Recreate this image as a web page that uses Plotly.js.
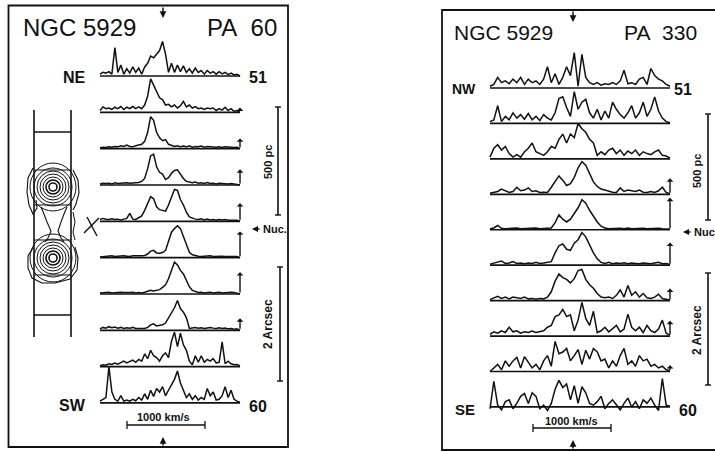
<!DOCTYPE html>
<html><head><meta charset="utf-8">
<script src="https://cdn.plot.ly/plotly-3.0.1.min.js"></script>
<style>html,body{margin:0;padding:0;background:#fff}#g{width:715px;height:452px}</style>
</head><body><div id="g"></div>
<script>
// ---- Data: normalised line profiles (row units), NGC 5929 PA 60 (rows 51 .. 60) ----
const pa60_s1  = [0.05,0.1,0.08,0.12,0.05,0.78,0.1,0.3,0.05,0.2,0.08,0.25,0.1,0.22,0.05,0.25,0.35,0.55,0.5,0.6,0.7,0.95,0.6,0.1,0.35,0.1,0.3,0.12,0.28,0.1,0.2,0.08,0.22,0.1,0.15,0.05,0.15,0.08,0.12,0.05,0.12,0.06,0.1,0.04,0.08,0.03,0.05,0.0];
const pa60_s2  = [0.05,0.15,0.1,0.12,0.08,0.14,0.1,0.16,0.08,0.14,0.1,0.16,0.1,0.15,0.1,0.2,0.45,0.92,0.75,0.55,0.4,0.35,0.2,0.22,0.15,0.2,0.12,0.18,0.3,0.15,0.2,0.12,0.16,0.1,0.12,0.08,0.12,0.1,0.12,0.05,0.1,0.06,0.14,0.05,0.1,0.03,0.05,0.0];
const pa60_s3  = [0.02,0.04,0.03,0.05,0.04,0.06,0.05,0.08,0.06,0.1,0.06,0.05,0.08,0.1,0.12,0.2,0.45,0.88,0.78,0.45,0.3,0.22,0.25,0.12,0.1,0.06,0.08,0.05,0.07,0.05,0.08,0.04,0.06,0.05,0.07,0.04,0.06,0.05,0.06,0.04,0.05,0.03,0.05,0.04,0.05,0.03,0.04,0.0];
const pa60_s4  = [0.03,0.05,0.04,0.05,0.03,0.06,0.04,0.05,0.04,0.06,0.05,0.06,0.05,0.07,0.1,0.18,0.45,0.8,0.85,0.5,0.35,0.3,0.15,0.2,0.32,0.4,0.42,0.3,0.18,0.1,0.08,0.06,0.08,0.05,0.06,0.04,0.07,0.04,0.05,0.03,0.05,0.04,0.05,0.03,0.04,0.03,0.03,0.0];
const pa60_s5  = [0.05,0.08,0.06,0.05,0.07,0.05,0.06,0.04,0.06,0.08,0.22,0.06,0.05,0.1,0.15,0.3,0.5,0.68,0.62,0.4,0.32,0.3,0.28,0.45,0.65,0.88,0.85,0.6,0.45,0.25,0.12,0.08,0.06,0.05,0.07,0.04,0.06,0.04,0.05,0.03,0.05,0.04,0.05,0.03,0.04,0.03,0.03,0.0];
const pa60_s6  = [0.02,0.03,0.04,0.03,0.05,0.03,0.04,0.03,0.05,0.04,0.03,0.05,0.04,0.05,0.05,0.06,0.1,0.18,0.2,0.13,0.12,0.14,0.2,0.45,0.7,0.8,0.88,0.8,0.6,0.35,0.15,0.08,0.05,0.04,0.03,0.04,0.03,0.05,0.03,0.04,0.03,0.04,0.03,0.04,0.03,0.03,0.03,0.0];
const pa60_s7  = [0.03,0.04,0.03,0.05,0.03,0.04,0.03,0.05,0.04,0.03,0.04,0.05,0.03,0.04,0.03,0.05,0.07,0.1,0.08,0.1,0.12,0.18,0.25,0.42,0.65,0.88,0.8,0.65,0.55,0.35,0.2,0.1,0.06,0.04,0.05,0.03,0.04,0.05,0.03,0.04,0.05,0.03,0.04,0.03,0.05,0.04,0.03,0.0];
const pa60_s8  = [0.04,0.08,0.06,0.1,0.07,0.09,0.06,0.08,0.05,0.07,0.06,0.08,0.05,0.04,0.05,0.05,0.08,0.15,0.18,0.12,0.14,0.15,0.2,0.35,0.5,0.62,0.82,0.6,0.5,0.35,0.05,0.06,0.08,0.06,0.07,0.05,0.06,0.08,0.06,0.05,0.07,0.05,0.06,0.04,0.05,0.03,0.04,0.0];
const pa60_s9  = [0.02,0.05,0.04,0.08,0.06,0.1,0.07,0.12,0.15,0.1,0.13,0.18,0.12,0.2,0.15,0.35,0.22,0.45,0.3,0.25,0.15,0.3,0.38,0.25,0.7,0.95,0.55,0.92,0.6,0.45,0.15,0.05,0.3,0.12,0.3,0.12,0.2,0.15,0.22,0.1,0.12,0.68,0.08,0.15,0.08,0.05,0.06,0.02];
const pa60_s10 = [0.05,0.1,0.15,1.0,0.3,0.1,0.05,0.2,0.05,0.08,0.05,0.1,0.06,0.15,0.08,0.25,0.1,0.35,0.18,0.4,0.3,0.45,0.2,0.35,0.5,0.65,0.88,0.55,0.35,0.15,0.25,0.1,0.2,0.08,0.15,0.1,0.4,0.2,0.3,0.08,0.1,0.2,0.45,0.15,0.35,0.1,0.05,0.02];
const pa60_cal = [0,0.13,0.28,0.43,0.5,0.72,0.6,0.33,0,0];

// ---- NGC 5929 PA 330 (rows 51 .. 60) ----
const pa330_s1  = [0.05,0.1,0.3,0.15,0.2,0.12,0.25,0.15,0.3,0.1,0.25,0.15,0.2,0.1,0.25,0.6,0.15,0.4,0.1,0.3,0.6,0.35,1.0,0.05,0.95,0.3,0.15,0.1,0.15,0.08,0.12,0.1,0.15,0.1,0.2,0.5,0.12,0.15,0.1,0.25,0.3,0.1,0.55,0.35,0.25,0.2,0.1,0.05];
const pa330_s2  = [0.05,0.1,0.5,0.05,0.2,0.1,0.3,0.15,0.25,0.12,0.28,0.1,0.2,0.08,0.25,0.15,0.1,0.3,0.7,0.75,0.45,0.2,0.9,0.4,0.6,0.68,0.3,0.15,0.4,0.1,0.35,0.15,0.6,0.4,0.25,0.15,0.3,0.5,0.15,0.3,0.6,0.2,0.4,0.75,0.35,0.15,0.05,0.02];
const pa330_s3  = [0.05,0.3,0.4,0.25,0.35,0.15,0.05,0.12,0.05,0.2,0.3,0.45,0.2,0.15,0.1,0.2,0.35,0.3,0.55,0.7,0.45,0.7,0.6,1.0,0.85,0.75,0.55,0.45,0.1,0.2,0.12,0.25,0.3,0.15,0.25,0.1,0.22,0.15,0.25,0.1,0.2,0.15,0.12,0.2,0.25,0.1,0.08,0.02];
const pa330_s4  = [0.03,0.05,0.08,0.15,0.1,0.05,0.08,0.2,0.1,0.12,0.18,0.08,0.1,0.05,0.06,0.05,0.2,0.35,0.52,0.4,0.25,0.3,0.48,0.75,0.92,0.82,0.6,0.35,0.22,0.15,0.12,0.08,0.06,0.05,0.18,0.08,0.12,0.1,0.08,0.12,0.06,0.05,0.08,0.05,0.1,0.2,0.05,0.02];
const pa330_s5  = [0.03,0.05,0.12,0.04,0.03,0.04,0.03,0.05,0.03,0.04,0.03,0.04,0.05,0.03,0.04,0.04,0.05,0.2,0.42,0.3,0.22,0.3,0.45,0.62,0.85,0.75,0.55,0.38,0.22,0.1,0.05,0.03,0.04,0.03,0.04,0.03,0.05,0.03,0.04,0.03,0.04,0.03,0.04,0.03,0.04,0.03,0.03,0.02];
const pa330_s6  = [0.03,0.06,0.1,0.12,0.05,0.06,0.1,0.05,0.06,0.04,0.06,0.05,0.08,0.05,0.06,0.08,0.1,0.35,0.55,0.6,0.45,0.42,0.62,0.72,0.92,0.8,0.55,0.35,0.18,0.08,0.05,0.08,0.04,0.06,0.05,0.07,0.04,0.06,0.05,0.04,0.06,0.05,0.04,0.06,0.08,0.04,0.05,0.02];
const pa330_s7  = [0.03,0.08,0.12,0.06,0.1,0.05,0.1,0.08,0.06,0.1,0.05,0.06,0.04,0.06,0.05,0.1,0.25,0.55,0.75,0.65,0.6,0.5,0.62,0.85,0.88,0.6,0.45,0.35,0.2,0.1,0.08,0.1,0.06,0.15,0.3,0.1,0.43,0.15,0.25,0.1,0.2,0.08,0.06,0.1,0.18,0.06,0.05,0.02];
const pa330_s8  = [0.05,0.12,0.08,0.15,0.1,0.25,0.12,0.15,0.08,0.12,0.1,0.14,0.1,0.12,0.15,0.25,0.3,0.55,0.6,0.75,0.55,0.6,0.15,0.45,0.95,0.5,0.3,0.7,0.1,0.15,0.25,0.12,0.2,0.3,0.12,0.2,0.62,0.25,0.15,0.25,0.1,0.3,0.15,0.1,0.2,0.45,0.08,0.02];
const pa330_s9  = [0.0,0.1,0.2,0.05,0.3,0.15,0.3,0.4,0.1,0.42,0.25,0.1,0.2,0.05,0.3,0.45,0.15,0.85,0.5,0.55,0.65,0.3,0.45,0.62,0.2,0.6,0.35,0.65,0.55,0.3,0.35,0.1,0.3,0.15,0.45,0.65,0.2,0.3,0.15,0.45,0.3,0.35,0.15,0.2,0.1,0.15,0.05,0.02];
const pa330_s10 = [-0.05,0.72,0.05,-0.08,0.15,0.2,-0.05,0.1,0.3,0.38,0.1,0.4,0.3,-0.05,0.05,-0.1,0.1,0.5,0.75,0.55,0.65,0.2,0.6,0.1,0.57,0.4,0.1,0.05,0.15,0.3,-0.05,0.1,0.2,0.05,-0.08,0.1,0.25,0.0,0.15,-0.05,0.2,0.1,0.25,0.05,-0.1,0.8,0.05,0.02];
const pa330_cal = [0,0,0,0.45,0.9,0.64,0.34,0.43,0.18,0];

// velocity channels (km/s relative to systemic)
const pa60_v0 = -808, pa60_dv = 38.2;
const pa330_v0 = -1064, pa330_dv = 49.1;

const pa60 = [pa60_s1,pa60_s2,pa60_s3,pa60_s4,pa60_s5,pa60_s6,pa60_s7,pa60_s8,pa60_s9,pa60_s10];
const pa330 = [pa330_s1,pa330_s2,pa330_s3,pa330_s4,pa330_s5,pa330_s6,pa330_s7,pa330_s8,pa330_s9,pa330_s10];

// ---- geometry ----
const W = 715, H = 452, K = 0.078;   // px per km/s
const LC = 163, RC = 573;            // systemic velocity position
const LR0 = 76, LRS = 36.33, RR0 = 88, RRS = 35.44;
const X = p => p / W, Y = p => 1 - p / H;
const ink = '#111';

const traces = [];
pa60.forEach((s, r) => traces.push({type:'scatter', mode:'lines', xaxis:'x', yaxis:'y',
  x0: pa60_v0, dx: pa60_dv, y: s.map(v => v - r), line:{color:ink, width:1.5},
  hoverinfo:'skip', showlegend:false}));
pa330.forEach((s, r) => traces.push({type:'scatter', mode:'lines', xaxis:'x2', yaxis:'y2',
  x0: pa330_v0, dx: pa330_dv, y: s.map(v => v - r), line:{color:ink, width:1.5},
  hoverinfo:'skip', showlegend:false}));

const shapes = [];
const line = (x0,y0,x1,y1,w) => shapes.push({type:'line', xref:'paper', yref:'paper',
  x0:X(x0), y0:Y(y0), x1:X(x1), y1:Y(y1), line:{color:ink, width:w||1.5}});
const circ = (cx,cy,rx,ry,w) => shapes.push({type:'circle', xref:'paper', yref:'paper',
  x0:X(cx-rx), x1:X(cx+rx), y0:Y(cy+ry), y1:Y(cy-ry), line:{color:ink, width:w||1}});
const path = (pts,w) => {
  let d = 'M ' + X(pts[0][0]) + ',' + Y(pts[0][1]);
  for (let i = 1; i < pts.length; i++) d += ' L ' + X(pts[i][0]) + ',' + Y(pts[i][1]);
  shapes.push({type:'path', xref:'paper', yref:'paper', path:d, line:{color:ink, width:w||1.2}});
};

// baselines
for (let r = 0; r < 10; r++) {
  shapes.push({type:'line', xref:'x', yref:'y', x0:pa60_v0, x1:pa60_v0 + 47*pa60_dv, y0:-r, y1:-r, line:{color:ink, width:1.7}});
  shapes.push({type:'line', xref:'x2', yref:'y2', x0:pa330_v0, x1:pa330_v0 + 47*pa330_dv, y0:-r, y1:-r, line:{color:ink, width:1.7}});
}
// frames
shapes.push({type:'rect', xref:'paper', yref:'paper', x0:X(8.5), x1:X(288), y0:Y(447), y1:Y(5.5), line:{color:ink, width:1.8}});
shapes.push({type:'rect', xref:'paper', yref:'paper', x0:X(442), x1:X(720), y0:Y(450), y1:Y(10), line:{color:ink, width:1.8}});

// velocity scale bars
line(127,425,205,425,1.5); line(127,421,127,429,1.3); line(205,421,205,429,1.3);
line(533,428,611,428,1.5); line(533,424,533,432,1.3); line(611,424,611,432,1.3);
// spatial scale bars
line(278,107,278,215,1.6); line(275,107,281,107,1.4); line(275,215,281,215,1.4);
line(280,267,280,381,1.6); line(277,267,283,267,1.4); line(277,381,283,381,1.4);
line(708,114,708,220,1.6); line(705,114,711,114,1.4); line(705,220,711,220,1.4);
line(708,273,708,385,1.6); line(705,273,711,273,1.4); line(705,385,711,385,1.4);

// slit sketch
line(34,110,34,337,1.6); line(71,110,71,337,1.6);
line(34,132,71,132,1.5); line(34,315,71,315,1.5);
line(34,170,71,170,1.2); line(34,205,71,205,1.2); line(34,240,71,240,1.2); line(34,275,71,275,1.2);
[4,7,10,13,16,19].forEach((r,i) => { circ(53,187,r,r,i<2?1.6:1); circ(53,258,r,r,i<2?1.6:1); });
circ(53,187,23,24,1); circ(53,258,23,24,1);
path([[33,168],[28,178],[27,192],[29,205],[33,214],[37,208],[36,200]],1.1);
path([[73,170],[78,180],[79,193],[76,204],[73,210]],1.1);
path([[33,248],[28,256],[28,268],[32,278],[42,283],[55,283],[70,279],[77,270],[78,258],[75,247]],1.1);
path([[41,207],[44,214],[47,222],[51,231],[48,238],[45,242]],1.1);
path([[67,207],[64,214],[61,222],[58,231],[61,238],[64,242]],1.1);
path([[73,212],[75,222],[73,232],[75,240]],1.0);
line(84,233,99,218,1.4); line(87,217,97,236,1.4);

const ann = [];
const txt = (t,x,y,size,xa,opts) => ann.push(Object.assign({text:t, xref:'paper', yref:'paper',
  x:X(x), y:Y(y), xanchor:xa||'center', yanchor:'middle', showarrow:false,
  font:{family:'Liberation Sans, Arial, sans-serif', size:size, color:ink}}, opts||{}));
const arrow = (x,y,ax,ay,head,size) => ann.push({text:'', xref:'paper', yref:'paper', x:X(x), y:Y(y), ax:ax, ay:ay,
  showarrow:true, arrowhead:head||2, arrowsize:size||0.9, arrowwidth:1.5, arrowcolor:ink});

// titles
txt('NGC 5929', 21, 28, 24, 'left');
txt('PA\u00a0\u00a060', 279, 28, 24, 'right');
txt('NGC 5929', 452, 32, 21, 'left');
txt('PA\u00a0\u00a0330', 699, 32, 21, 'right');
// row labels
txt('<b>NE</b>', 88, 77, 16, 'right');
txt('<b>51</b>', 247, 78, 16, 'left');
txt('<b>SW</b>', 88, 405, 16, 'right');
txt('<b>60</b>', 247, 406, 16, 'left');
txt('<b>NW</b>', 478, 89, 14, 'right');
txt('<b>51</b>', 672, 90, 16, 'left');
txt('<b>SE</b>', 477, 409, 15, 'right');
txt('<b>60</b>', 677, 410, 16, 'left');
// scale texts
txt('<b>1000 km/s</b>', 163, 417, 11);
txt('<b>1000 km/s</b>', 571, 421, 11);
txt('<b>500 pc</b>', 268, 162, 11, 'center', {textangle:-90});
txt('<b>2 Arcsec</b>', 268, 324, 12, 'center', {textangle:-90});
txt('<b>500 pc</b>', 697, 171, 11, 'center', {textangle:-90});
txt('<b>2 Arcsec</b>', 697, 330, 12, 'center', {textangle:-90});
txt('<b>Nuc.</b>', 261, 229, 11, 'left');
txt('<b>Nuc</b>', 692, 232, 11, 'left');
arrow(252, 229, 9, 0, 2, 0.8);
arrow(683, 232, 9, 0, 2, 0.8);
// systemic-velocity arrows
arrow(LC, 18, 0, -12); arrow(LC, 437, 0, 10);
arrow(RC, 22, 0, -12); arrow(RC, 440, 0, 10);
// calibration arrows at right end of spectra
pa60_cal.forEach((h, r) => { if (h > 0) ann.push({text:'', xref:'x', yref:'y', x:pa60_v0 + 47*pa60_dv, y:h - r,
  ax:0, ay:h*LRS, showarrow:true, arrowhead:1, arrowsize:0.8, arrowwidth:1.4, arrowcolor:ink}); });
pa330_cal.forEach((h, r) => { if (h > 0) ann.push({text:'', xref:'x2', yref:'y2', x:pa330_v0 + 47*pa330_dv, y:h - r,
  ax:0, ay:h*RRS, showarrow:true, arrowhead:1, arrowsize:0.8, arrowwidth:1.4, arrowcolor:ink}); });

const hid = {showgrid:false, zeroline:false, showticklabels:false, showline:false, ticks:'', fixedrange:true};
const layout = {
  width: W, height: H, margin:{l:0, r:0, t:0, b:0},
  paper_bgcolor:'#fff', plot_bgcolor:'rgba(0,0,0,0)', showlegend:false,
  xaxis: Object.assign({domain:[0,0.5], range:[(0-LC)/K, (W/2-LC)/K], anchor:'y'}, hid),
  yaxis: Object.assign({domain:[0,1], range:[(LR0-H)/LRS, LR0/LRS], anchor:'x'}, hid),
  xaxis2: Object.assign({domain:[0.5,1], range:[(W/2-RC)/K, (W-RC)/K], anchor:'y2'}, hid),
  yaxis2: Object.assign({domain:[0,1], range:[(RR0-H)/RRS, RR0/RRS], anchor:'x2'}, hid),
  shapes: shapes, annotations: ann
};
Plotly.newPlot('g', traces, layout, {staticPlot:true, displayModeBar:false});
</script></body></html>
